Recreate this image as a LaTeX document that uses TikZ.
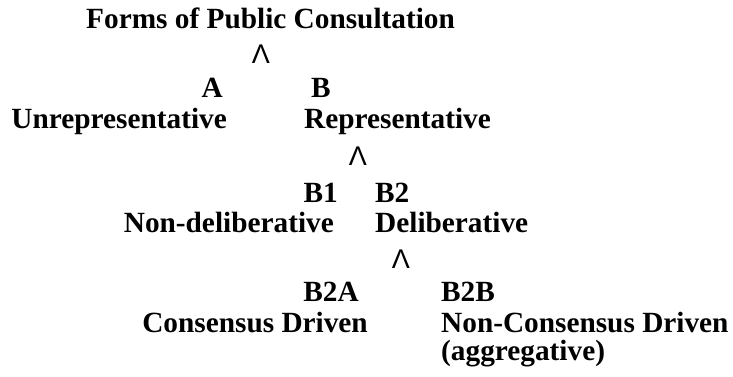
\documentclass[tikz,border=0pt]{standalone}
\usepackage{fontspec}
\setmainfont{Liberation Serif}
\newfontfamily\lamfont{Liberation Sans}
\begin{document}
\begin{tikzpicture}[x=1pt,y=-1pt,
  lbl/.style={inner sep=0pt, font=\bfseries\fontsize{29.3}{35}\selectfont},
  wedge/.style={inner sep=0pt, font=\lamfont\fontsize{27}{30}\selectfont}]
\useasboundingbox (0,0) rectangle (733,376);
\node[lbl, anchor=base west] (title) at (86,28) {Forms of Public Consultation};
\node[wedge, anchor=base] (w1) at (261,63) {Λ};
\node[lbl, anchor=base east] (A) at (223,97) {A};
\node[lbl, anchor=base west] (B) at (311,97) {B};
\node[lbl, anchor=base east] (unrep) at (227,128) {Unrepresentative};
\node[lbl, anchor=base west] (rep) at (304,128) {Representative};
\node[wedge, anchor=base] (w2) at (358,165) {Λ};
\node[lbl, anchor=base east] (B1) at (338,202) {B1};
\node[lbl, anchor=base west] (B2) at (375,202) {B2};
\node[lbl, anchor=base east] (nondel) at (334,232) {Non-deliberative};
\node[lbl, anchor=base west] (del) at (375,232) {Deliberative};
\node[wedge, anchor=base] (w3) at (401,268) {Λ};
\node[lbl, anchor=base east] (B2A) at (359,301) {B2A};
\node[lbl, anchor=base west] (B2B) at (441,301) {B2B};
\node[lbl, anchor=base east] (cons) at (368,332) {Consensus Driven};
\node[lbl, anchor=base west] (noncons) at (441,332) {Non-Consensus Driven};
\node[lbl, anchor=base west] (agg) at (441,360) {(aggregative)};
\end{tikzpicture}
\end{document}
